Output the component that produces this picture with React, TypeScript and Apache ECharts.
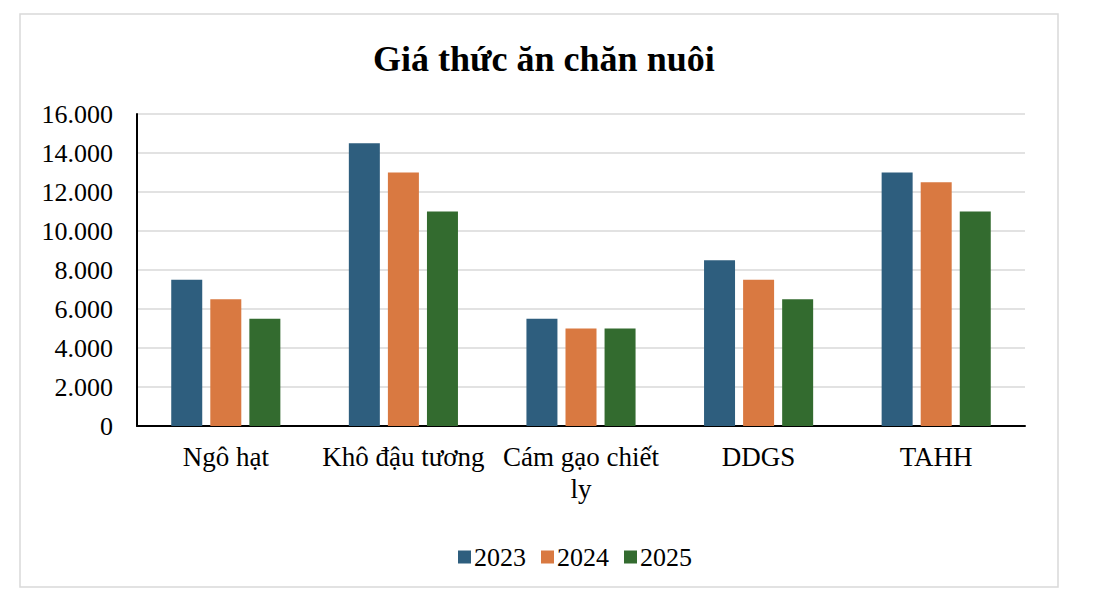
import React, { useEffect, useRef } from "react";
import * as echarts from "echarts";

const categories = ["Ngô hạt", "Khô đậu tương", "Cám gạo chiết\nly", "DDGS", "TAHH"];
const seriesNames = ["2023", "2024", "2025"];
const values2023 = [7500, 14500, 5500, 8500, 13000];
const values2024 = [6500, 13000, 5000, 7500, 12500];
const values2025 = [5500, 11000, 5000, 6500, 11000];
const colors = ["#2E5E7E", "#D97941", "#336B2F"];
const FONT = "Liberation Serif";

const fmt = (v: number) => {
  if (v === 0) return "0";
  const s = String(Math.round(v));
  return s.replace(/\B(?=(\d{3})+(?!\d))/g, ".");
};

export default function App() {
  const ref = useRef<HTMLDivElement>(null);
  useEffect(() => {
    if (!ref.current) return;
    const chart = echarts.init(ref.current, undefined, { renderer: "svg" });
    const data = [values2023, values2024, values2025];
    chart.setOption({
      animation: false,
      backgroundColor: "#ffffff",
      textStyle: { fontFamily: FONT },
      title: {
        text: "Giá thức ăn chăn nuôi",
        left: 368,
        top: 36,
        textStyle: { fontFamily: FONT, fontSize: 36, fontWeight: "bold", color: "#000" },
      },
      graphic: [
        {
          type: "rect",
          shape: { x: 20, y: 14, width: 1038, height: 573 },
          style: { fill: "none", stroke: "#d9d9d9", lineWidth: 1.5 },
          silent: true,
        },
      ],
      legend: {
        data: seriesNames,
        left: 453,
        top: 539,
        itemWidth: 13,
        itemHeight: 13,
        itemGap: 15,
        icon: "rect",
        textStyle: { fontFamily: FONT, fontSize: 26, color: "#000", padding: [0, 0, 0, -2] },
      },
      grid: { left: 137, right: 69, top: 114, bottom: 188, containLabel: false },
      xAxis: {
        type: "category",
        data: categories,
        axisLine: { lineStyle: { color: "#000", width: 2 } },
        axisTick: { show: false },
        axisLabel: {
          fontFamily: FONT,
          fontSize: 27,
          color: "#000",
          margin: 15,
          lineHeight: 32,
          interval: 0,
        },
      },
      yAxis: {
        type: "value",
        min: 0,
        max: 16000,
        interval: 2000,
        axisLine: { show: true, lineStyle: { color: "#000", width: 2 } },
        axisTick: { show: false },
        splitLine: { lineStyle: { color: "#d9d9d9", width: 1.5 } },
        axisLabel: {
          fontFamily: FONT,
          fontSize: 26,
          color: "#000",
          margin: 24,
          padding: [0, 0, 5, 0],
          formatter: (v: number) => fmt(v),
        },
      },
      series: seriesNames.map((name, i) => ({
        name,
        type: "bar",
        data: data[i],
        barWidth: 31,
        barGap: "26%",
        itemStyle: { color: colors[i] },
      })),
    });
    return () => chart.dispose();
  }, []);
  return (
    <div
      ref={ref}
      style={{ position: "absolute", left: 0, top: 0, width: 1094, height: 614 }}
    />
  );
}
